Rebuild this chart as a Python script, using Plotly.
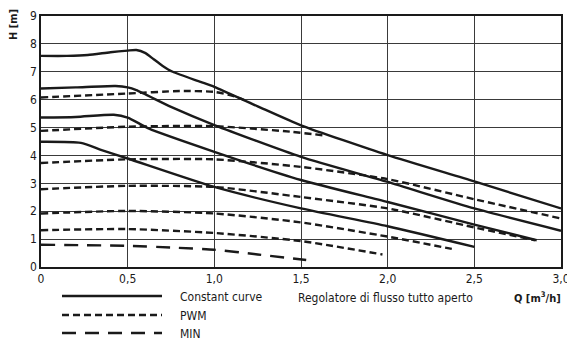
import plotly.graph_objects as go

# ---- data (Q in m3/h, H in m) ----
const1_q = [0, 0.15, 0.27, 0.4, 0.5, 0.55, 0.6, 0.65, 0.7, 0.76, 0.92, 1.0, 1.25, 1.5, 2.0, 2.5, 3.0]
const1_h = [7.57, 7.57, 7.6, 7.7, 7.76, 7.78, 7.68, 7.45, 7.22, 7.0, 6.64, 6.46, 5.76, 5.08, 4.01, 3.07, 2.1]

const2_q = [0, 0.2, 0.43, 0.5, 0.55, 0.75, 1.0, 1.5, 2.0, 2.5, 3.0]
const2_h = [6.40, 6.44, 6.49, 6.44, 6.34, 5.74, 5.09, 3.95, 3.05, 2.10, 1.30]

const3_q = [0, 0.2, 0.42, 0.5, 0.62, 1.0, 1.5, 2.0, 2.5, 2.86]
const3_h = [5.36, 5.38, 5.46, 5.36, 4.97, 4.13, 3.12, 2.33, 1.52, 0.96]

const4_q = [0, 0.23, 0.35, 0.5, 1.0, 1.5, 2.0, 2.5]
const4_h = [4.49, 4.45, 4.19, 3.89, 2.87, 2.10, 1.46, 0.72]

pwm1_q = [0, 0.5, 0.8, 1.0, 1.1, 1.19]
pwm1_h = [6.08, 6.22, 6.31, 6.28, 6.15, 5.95]
pwm2_q = [0, 0.5, 1.0, 1.44, 1.63]
pwm2_h = [4.88, 5.03, 5.05, 4.85, 4.72]
pwm3_q = [0, 0.5, 1.0, 1.5, 2.0, 2.5, 3.0]
pwm3_h = [3.73, 3.86, 3.86, 3.59, 3.15, 2.43, 1.74]
pwm4_q = [0, 0.5, 1.0, 1.5, 2.0, 2.5, 2.85]
pwm4_h = [2.79, 2.91, 2.87, 2.51, 2.10, 1.42, 0.96]
pwm5_q = [0, 0.5, 1.0, 1.5, 2.0, 2.37]
pwm5_h = [1.92, 2.01, 1.92, 1.60, 1.09, 0.65]
pwm6_q = [0, 0.5, 1.0, 1.5, 1.97]
pwm6_h = [1.32, 1.36, 1.22, 0.93, 0.45]

min_q = [0, 0.5, 0.75, 1.0, 1.25, 1.53]
min_h = [0.80, 0.76, 0.70, 0.62, 0.45, 0.25]

x_tickvals = [0, 0.5, 1.0, 1.5, 2.0, 2.5, 3.0]
x_ticktext = ["0", "0,5", "1,0", "1,5", "2,0", "2,5", "3,0"]
y_tickvals = list(range(0, 10))

legend_labels = ["Constant curve", "PWM", "MIN"]

FONT = "Liberation Sans Narrow, DejaVu Sans Condensed, sans-serif"
INK = "#1a1a1a"
SOLID = dict(color=INK, width=2.4, shape="spline", smoothing=0.6)
PWM_DASH = "7px,4px"
MIN_DASH = "14px,9px"

fig = go.Figure()
for q, h in [(const1_q, const1_h), (const2_q, const2_h), (const3_q, const3_h), (const4_q, const4_h)]:
    fig.add_trace(go.Scatter(x=q, y=h, mode="lines", line=SOLID, showlegend=False, hoverinfo="skip"))
for q, h in [(pwm1_q, pwm1_h), (pwm2_q, pwm2_h), (pwm3_q, pwm3_h), (pwm4_q, pwm4_h), (pwm5_q, pwm5_h), (pwm6_q, pwm6_h)]:
    fig.add_trace(go.Scatter(x=q, y=h, mode="lines",
                             line=dict(color=INK, width=2.4, dash=PWM_DASH, shape="spline", smoothing=0.6),
                             showlegend=False, hoverinfo="skip"))
fig.add_trace(go.Scatter(x=min_q, y=min_h, mode="lines",
                         line=dict(color=INK, width=2.4, dash=MIN_DASH, shape="spline", smoothing=0.6),
                         showlegend=False, hoverinfo="skip"))

# plot area geometry in pixels
L, R, T, B = 41, 561, 16, 267
W, H = 567, 338
def px(x):
    return (x - L) / (R - L)
def py(y):
    return (B - y) / (B - T)

# custom legend
styles = [None, PWM_DASH, MIN_DASH]
rows = [296, 315, 333]
for lab, sty, ry in zip(legend_labels, styles, rows):
    ln = dict(color=INK, width=2.4)
    if sty:
        ln["dash"] = sty
    fig.add_shape(type="line", xref="paper", yref="paper", x0=px(62), x1=px(162),
                  y0=py(ry), y1=py(ry), line=ln)
    fig.add_annotation(text=lab, xref="paper", yref="paper", x=px(178), y=py(ry + 1),
                       xanchor="left", yanchor="middle", showarrow=False,
                       font=dict(size=12, color=INK, family=FONT))

fig.add_annotation(text="Regolatore di flusso tutto aperto", xref="paper", yref="paper",
                   x=px(385), y=py(298), xanchor="center", yanchor="middle", showarrow=False,
                   font=dict(size=12, color=INK, family=FONT))
fig.add_annotation(text="<b>Q [m<sup>3</sup>/h]</b>", xref="paper", yref="paper",
                   x=px(563), y=py(297), xanchor="right", yanchor="middle", showarrow=False,
                   font=dict(size=11, color=INK, family=FONT))
fig.add_annotation(text="<b>H [m]</b>", xref="paper", yref="paper",
                   x=px(14), y=py(25), xanchor="center", yanchor="middle", showarrow=False,
                   textangle=-90, font=dict(size=11, color=INK, family=FONT))

fig.update_xaxes(range=[0, 3], tickvals=x_tickvals, ticktext=x_ticktext,
                 showgrid=True, gridcolor="#3a3a3a", gridwidth=1,
                 showline=True, linecolor=INK, linewidth=1.5, mirror=True,
                 ticklabeloverflow="allow", automargin=False,
                 zeroline=False, ticks="", tickfont=dict(size=12, color=INK, family=FONT))
fig.update_yaxes(range=[0, 9], tickvals=y_tickvals, automargin=False,
                 showgrid=True, gridcolor="#3a3a3a", gridwidth=1,
                 showline=True, linecolor=INK, linewidth=1.5, mirror=True,
                 zeroline=False, ticks="", tickfont=dict(size=12, color=INK, family=FONT))

fig.update_layout(width=W, height=H, margin=dict(l=L, r=W - R, t=T, b=H - B, autoexpand=False),
                  plot_bgcolor="white", paper_bgcolor="white", showlegend=False,
                  separators=", ")

fig.write_html("out.html")
